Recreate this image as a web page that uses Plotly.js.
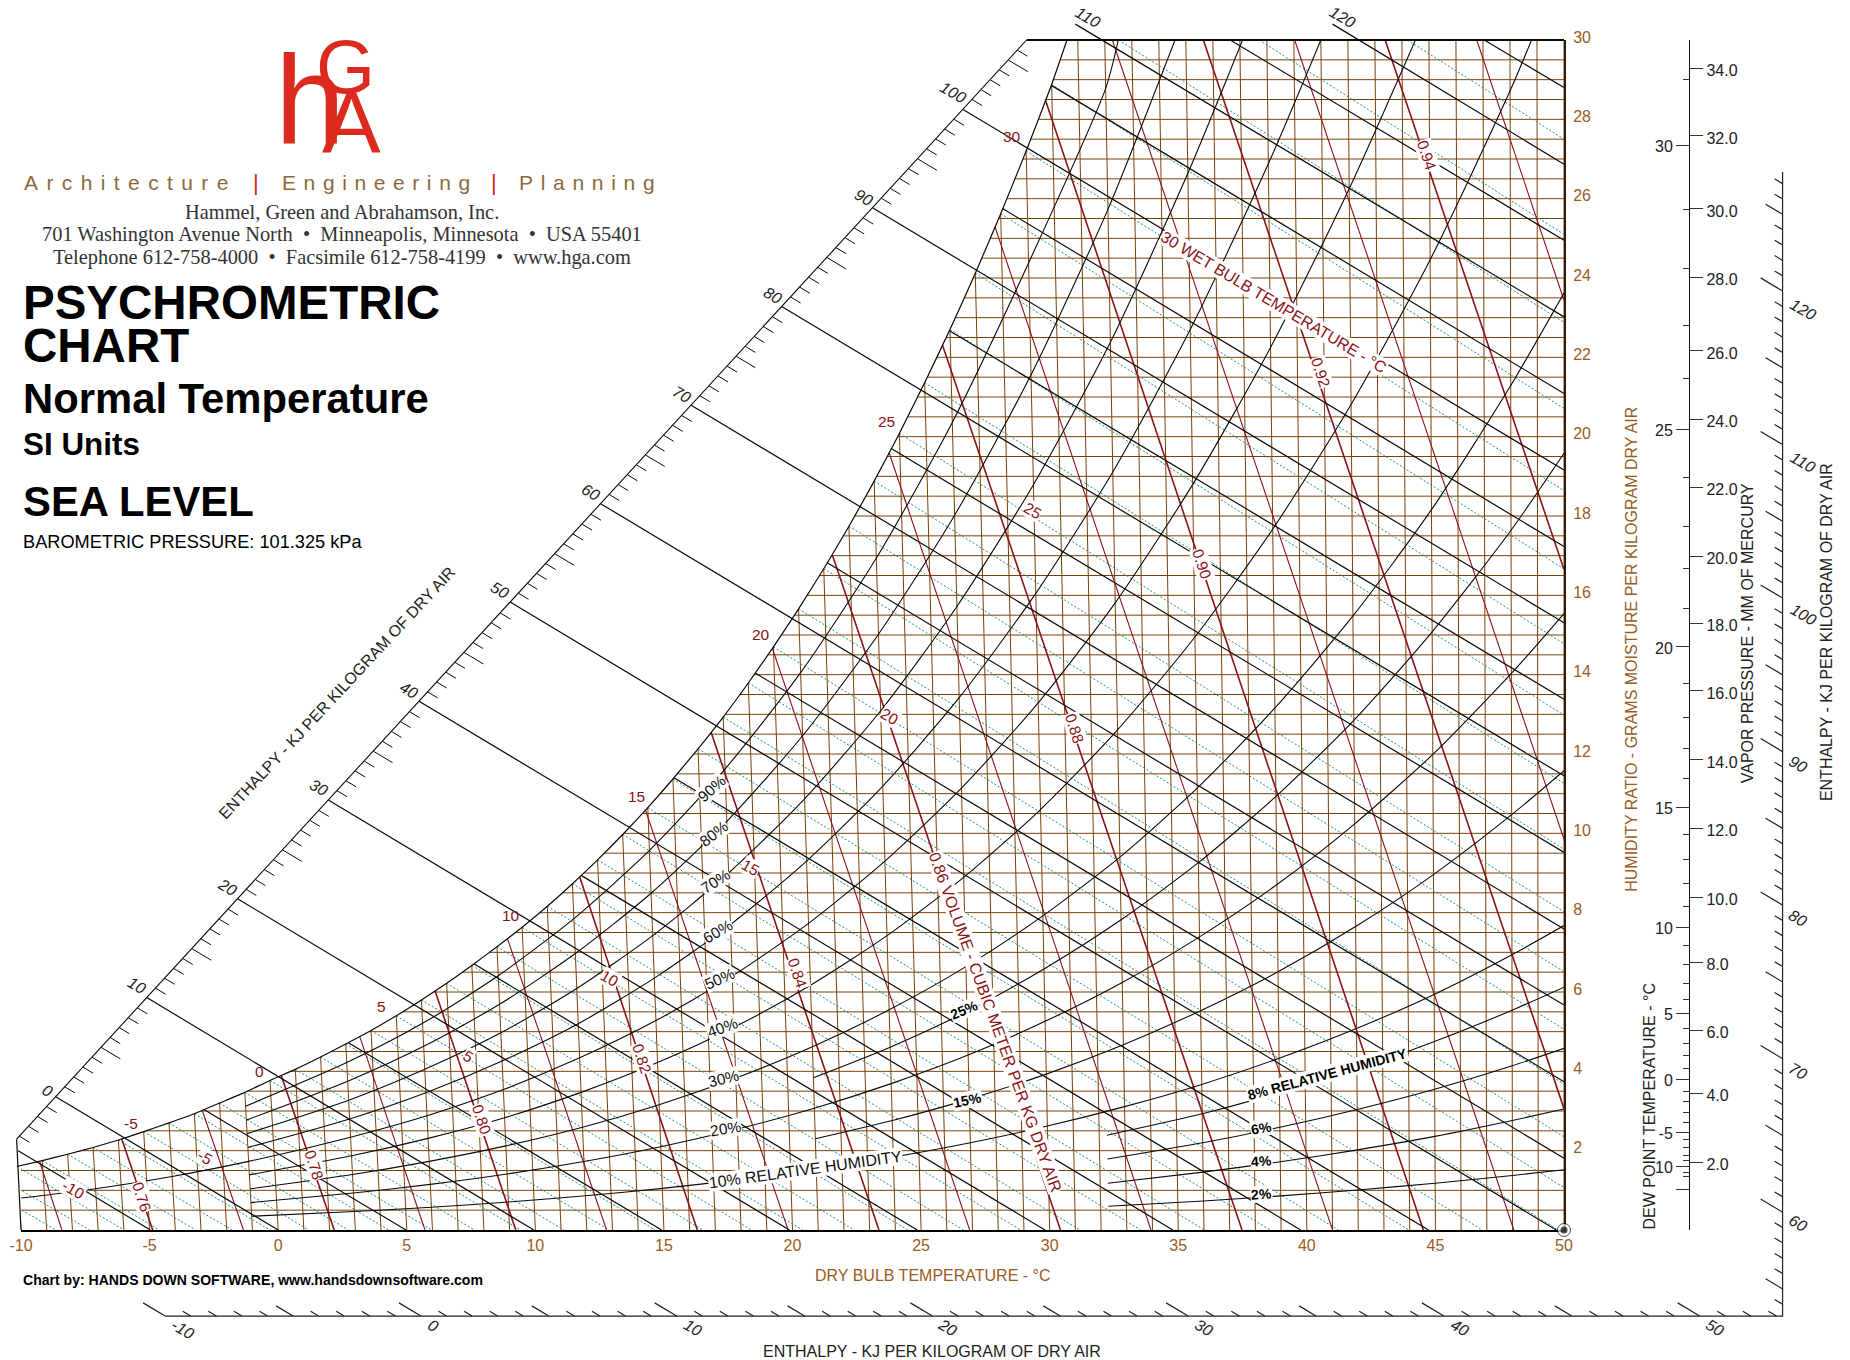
<!DOCTYPE html>
<html><head><meta charset="utf-8">
<script src="https://cdn.plot.ly/plotly-3.0.1.min.js"></script>
<style>html,body{margin:0;padding:0;background:#fff}</style></head>
<body><div id="chart" style="width:1850px;height:1360px"></div>
<script>
// Chart's dry-bulb lines lean as humidity ratio rises: plotted x for (dry bulb, humidity ratio)
const LEAN = 0.00168;
const plotX = (t, w) => 50 - (50 - t) * (1 + LEAN * w);

// Saturation curve: dry bulb (deg C), humidity ratio (g/kg)
const saturationT = [-10,-9,-8,-7,-6,-5,-4,-3,-2,-1,0,1,2,3,4,5,6,7,8,9,10,11,12,13,14,15,16,17,18,19,20,21,22,23,24,25,26,27,28,29,30,31,31.6];
const saturationW = [1.60,1.75,1.91,2.08,2.27,2.48,2.70,2.93,3.20,3.47,3.77,4.05,4.36,4.69,5.03,5.40,5.80,6.22,6.67,7.14,7.63,8.16,8.73,9.33,9.97,10.65,11.37,12.13,12.93,13.79,14.70,15.66,16.67,17.74,18.88,20.08,21.36,22.70,24.12,25.62,27.20,28.88,30];

// Dry bulb grid
const dryBulbT = [-10,-9,-8,-7,-6,-5,-4,-3,-2,-1,0,1,2,3,4,5,6,7,8,9,10,11,12,13,14,15,16,17,18,19,20,21,22,23,24,25,26,27,28,29,30,31,32,33,34,35,36,37,38,39,40,41,42,43,44,45,46,47,48,49,50];
const dryBulbTopW = [1.60,1.75,1.91,2.08,2.27,2.48,2.70,2.93,3.20,3.47,3.77,4.05,4.36,4.69,5.03,5.40,5.80,6.22,6.67,7.14,7.63,8.16,8.73,9.33,9.97,10.65,11.37,12.13,12.93,13.79,14.70,15.66,16.67,17.74,18.88,20.08,21.36,22.70,24.12,25.62,27.20,28.88,30,30,30,30,30,30,30,30,30,30,30,30,30,30,30,30,30,30,30];

// Humidity ratio grid
const humidityW = [0.5,1,1.5,2,2.5,3,3.5,4,4.5,5,5.5,6,6.5,7,7.5,8,8.5,9,9.5,10,10.5,11,11.5,12,12.5,13,13.5,14,14.5,15,15.5,16,16.5,17,17.5,18,18.5,19,19.5,20,20.5,21,21.5,22,22.5,23,23.5,24,24.5,25,25.5,26,26.5,27,27.5,28,28.5,29,29.5,30];
const humidityStartX = [-10.05,-10.10,-10.15,-7.67,-5.14,-3.01,-1.20,0.49,2.07,3.52,4.84,6.04,7.16,8.22,9.23,10.17,11.05,11.88,12.68,13.45,14.16,14.85,15.52,16.16,16.78,17.38,17.95,18.51,19.04,19.57,20.07,20.57,21.05,21.52,21.98,22.42,22.85,23.28,23.69,24.09,24.48,24.86,25.24,25.61,25.97,26.33,26.68,27.03,27.36,27.69,28.02,28.34,28.65,28.96,29.27,29.56,29.86,30.14,30.41,30.67];

// Wet bulb lines (dotted), 1 deg C apart
const wetBulbStartT = [-10.1,-10.05,-10,-9,-8,-7,-6,-5,-4,-3,-2,-1,0,1,2,3,4,5,6,7,8,9,10,11,12,13,14,15,16,17,18,19,20,21,22,23,24,25,26,27,28,29,30,31,33.51,38.71,44.2];
const wetBulbStartW = [1.08,0.55,1.60,1.75,1.91,2.08,2.27,2.48,2.70,2.93,3.20,3.47,3.77,4.05,4.36,4.69,5.03,5.40,5.80,6.22,6.67,7.14,7.63,8.16,8.73,9.33,9.97,10.65,11.37,12.13,12.93,13.79,14.70,15.66,16.67,17.74,18.88,20.08,21.36,22.70,24.12,25.62,27.20,28.88,30,30,30];
const wetBulbEndT = [-7.33,-8.64,-5.99,-4.61,-3.21,-1.8,-0.32,1.19,2.73,4.3,5.97,7.63,9.42,11.11,12.87,14.66,16.51,18.41,20.39,22.4,24.48,26.64,28.87,31.18,33.54,36.02,38.57,41.22,43.97,46.83,49.78,50,50,50,50,50,50,50,50,50,50,50,50,50,50,50,50];
const wetBulbEndW = [0,0,0,0,0,0,0,0,0,0,0,0,0,0,0,0,0,0,0,0,0,0,0,0,0,0,0,0,0,0,0,1.07,2.35,3.68,5.06,6.51,8.02,9.60,11.26,12.98,14.78,16.67,18.64,20.71,22.88,25.1,27.5];

// Specific volume lines (m3/kg)
const volumeValues = [0.75,0.76,0.77,0.78,0.79,0.80,0.81,0.82,0.83,0.84,0.85,0.86,0.87,0.88,0.89,0.90,0.91,0.92,0.93,0.94,0.95];
const volumeTopT = [-9.1,-5.87,-2.68,0.44,3.55,6.54,9.42,12.29,14.9,17.52,19.96,22.35,24.59,26.71,28.77,30.75,33.28,36.65,40.03,43.38,46.77];
const volumeTopW = [1.72,2.3,3.0,3.9,4.88,6.03,7.34,8.9,10.6,12.55,14.66,17.0,19.6,22.3,25.3,28.5,30,30,30,30,30];
const volumeEndT = [-8.41,-4.88,-1.35,2.18,5.71,9.24,12.77,16.30,19.83,23.36,26.89,30.42,33.94,37.48,41.0,44.53,48.05,50,50,50,50];
const volumeEndW = [0,0,0,0,0,0,0,0,0,0,0,0,0,0,0,0,0,3.06,9.85,16.65,23.44];

// Enthalpy lines (kJ/kg), plotted x and humidity ratio at each end
const enthalpyValues = [-5,0,5,10,15,20,25,30,35,40,45,50,55,60,65,70,75,80,85,90,95,100,105,110,115,120,125];
const enthalpyStartX = [-10.11,-8.65,-2.87,-5.11,2.73,-1.58,7.61,1.95,11.78,5.48,15.39,9.02,18.55,12.54,21.35,16.06,23.84,19.58,26.1,23.11,28.17,26.63,30.08,31.0,37.02,41.0,46.9];
const enthalpyStartW = [2.0,3.36,3.03,5.86,4.72,8.35,6.71,10.84,8.94,13.33,11.4,15.83,14.04,18.31,16.82,20.79,19.7,23.28,22.67,25.77,25.75,28.25,28.85,30.4,30,30.4,30];
const enthalpyEndX = [-4.97,0,4.97,9.94,14.91,19.88,24.85,29.82,34.79,39.76,44.73,49.70,50,50,50,50,50,50,50,50,50,50,50,50,50,50,50];
const enthalpyEndW = [0,0,0,0,0,0,0,0,0,0,0,0,1.81,3.74,5.67,7.59,9.52,11.45,13.38,15.31,17.23,19.16,21.09,23.02,24.95,26.87,28.80];

// Relative humidity curves: dry bulb (deg C), humidity ratio (g/kg)
const rhT = [-1,3,6,9,12,15,18,21,24,27,30,33,36,39,42,45,48,50];
const rh10W = [0.346,0.466,0.574,0.706,0.863,1.049,1.269,1.530,1.838,2.198,2.62,3.11,3.67,4.33,5.08,5.94,6.94,7.675];
const rh20W = [0.691,0.932,1.151,1.412,1.727,2.10,2.545,3.07,3.69,4.41,5.26,6.24,7.39,8.71,10.24,11.99,14.03,15.54];
const rh30W = [1.04,1.40,1.73,2.12,2.59,3.16,3.83,4.62,5.55,6.64,7.92,9.40,11.14,13.16,15.48,18.16,21.29,23.62];
const rh40T = [-1,3,6,9,12,15,18,21,24,27,30,33,36,39,42,45,48,48.8];
const rh40W = [1.39,1.87,2.31,2.83,3.47,4.22,5.11,6.17,7.42,8.89,10.60,12.61,14.95,17.67,20.81,24.46,28.72,30];
const rh50T = [-10,-7,-4,-1,3,6,9,12,15,18,21,24,27,30,33,36,39,42,44.5];
const rh50W = [0.80,1.04,1.35,1.73,2.34,2.88,3.54,4.34,5.28,6.40,7.73,9.30,11.14,13.29,15.81,18.79,22.25,26.25,30];
const rh60T = [-1,3,6,9,12,15,18,21,24,27,30,33,36,39,41];
const rh60W = [2.08,2.80,3.46,4.26,5.20,6.35,7.70,9.30,11.19,13.42,16.05,19.11,22.70,26.88,30];
const rh70T = [-1,3,6,9,12,15,18,21,24,27,30,33,36,38.1];
const rh70W = [2.43,3.27,4.05,4.97,6.09,7.42,9.00,10.87,13.09,15.72,18.79,22.38,26.64,30];
const rh80T = [-1,3,6,9,12,15,18,21,24,27,30,33,35.6];
const rh80W = [2.77,3.75,4.63,5.69,6.97,8.49,10.30,12.46,15.02,18.02,21.56,25.73,30];
const rh90T = [-1,3,6,9,12,15,18,21,24,27,30,33,33.5];
const rh90W = [3.12,4.22,5.21,6.41,7.85,9.57,11.62,14.05,16.94,20.36,24.38,28.78,30];
const rhMidT = [21,24,27,30,33,36,39,42,45,48,50];
const rh15W = [2.30,2.76,3.30,3.93,4.67,5.53,6.51,7.65,8.96,10.47,11.58];
const rh25W = [3.84,4.61,5.51,6.58,7.82,9.26,10.93,12.85,15.08,17.64,19.58];
const rhLowT = [32.3,36,39,42,45,48,50];
const rh2W = [0.60,0.731,0.86,1.01,1.18,1.375,1.52];
const rh4W = [1.18,1.46,1.72,2.02,2.36,2.76,3.05];
const rh6W = [1.79,2.20,2.59,3.04,3.55,4.14,4.58];
const rh8W = [2.39,2.93,3.46,4.05,4.75,5.54,6.12];

// Axis ticks
const dryBulbTicks = [-10,-5,0,5,10,15,20,25,30,35,40,45,50];
const dryBulbTickText = ['-10','-5','0','5','10','15','20','25','30','35','40','45','50'];
const humidityTicks = [2,4,6,8,10,12,14,16,18,20,22,24,26,28,30];
const vaporLabels = ['2.0','4.0','6.0','8.0','10.0','12.0','14.0','16.0','18.0','20.0','22.0','24.0','26.0','28.0','30.0','32.0','34.0'];
const vaporTickW = [1.71,3.45,5.02,6.74,8.39,10.13,11.85,13.59,15.3,16.99,18.73,20.44,22.16,24.02,25.74,27.58,29.29];
const dewLabels = ['30','25','20','15','10','5','0','-5','10',''];
const dewTickW = [27.34,20.18,14.70,10.65,7.63,5.45,3.80,2.47,1.61,1.03];
const dewMinorW = [29.01,25.73,24.24,22.8,21.46,18.97,17.74,16.67,15.66,13.79,12.93,12.13,11.37,9.97,9.33,8.73,8.16,7.16,6.70,6.22,5.82,5.07,4.71,4.41,4.08,3.50,3.23,2.95,2.72,2.27,2.09,1.89,1.74,1.46,1.34];

// Enthalpy scale geometry (plot units)
const diagScaleX = [-10.17,29.1], diagScaleW = [2.29,30];
const bottomScaleW = -2.17, rightScaleX = 58.5, rightScaleTopW = 26.67;
const diagAt = h => [-8.65 + 0.3528*h, 3.36 + 0.2489*h];
const bottomAt = h => [5.55 + 0.9945*h, bottomScaleW];
const rightAt = h => [rightScaleX, 0.45 + 0.387*(h-60)];

// Plot frame on the page, in pixels
const PX0 = 21, PX1 = 1564, PY0 = 1230, PY1 = 40, PAGEW = 1850, PAGEH = 1360;
const uX = (PX1-PX0)/60, uY = (PY0-PY1)/30;

const BROWN = '#7d4006', TEXTBROWN = '#9a5b1e', RED = '#8b1318', INK = '#0a0a0a';
const traces = [];
const segs = (name, color, width, xs, ys, dash, page) => traces.push(Object.assign({type:'scatter', mode:'lines', name, x:xs, y:ys, cliponaxis:false, connectgaps:false, hoverinfo:'skip', showlegend:false, line:{color, width, dash:dash||'solid'}}, page?{xaxis:'x2',yaxis:'y4'}:{}));

// dry bulb grid
{ const x=[],y=[]; dryBulbT.forEach((t,i)=>{x.push(t,plotX(t,dryBulbTopW[i]),null);y.push(0,dryBulbTopW[i],null);}); segs('Dry bulb',BROWN,1,x,y); }
// humidity grid
{ const x=[],y=[]; humidityW.forEach((w,i)=>{x.push(humidityStartX[i],50,null);y.push(w,w,null);}); segs('Humidity ratio',BROWN,1,x,y); }
// wet bulb
{ const x=[],y=[]; wetBulbStartT.forEach((t,i)=>{x.push(plotX(t,wetBulbStartW[i]),plotX(wetBulbEndT[i],wetBulbEndW[i]),null);y.push(wetBulbStartW[i],wetBulbEndW[i],null);}); segs('Wet bulb','#1e8f8f',1,x,y,'2px,2px'); }
// volume thin & thick
{ const x1=[],y1=[],x2=[],y2=[]; volumeValues.forEach((v,i)=>{const even=Math.round(v*100)%2===0; const X=even?x2:x1,Y=even?y2:y1; X.push(plotX(volumeTopT[i],volumeTopW[i]),plotX(volumeEndT[i],volumeEndW[i]),null);Y.push(volumeTopW[i],volumeEndW[i],null);}); segs('Volume .01',RED,1.1,x1,y1); segs('Volume .02',RED,1.6,x2,y2); }
// enthalpy
{ const x=[],y=[]; enthalpyValues.forEach((h,i)=>{x.push(enthalpyStartX[i],enthalpyEndX[i],null);y.push(enthalpyStartW[i],enthalpyEndW[i],null);}); segs('Enthalpy',INK,1.2,x,y,null,true); }
// relative humidity
const rhCurves = [[rhT,rh10W],[rhT,rh20W],[rhT,rh30W],[rh40T,rh40W],[rh50T,rh50W],[rh60T,rh60W],[rh70T,rh70W],[rh80T,rh80W],[rh90T,rh90W],[rhMidT,rh15W],[rhMidT,rh25W],[rhLowT,rh2W],[rhLowT,rh4W],[rhLowT,rh6W],[rhLowT,rh8W]];
rhCurves.forEach(([ts,ws],i)=>traces.push({type:'scatter',mode:'lines',name:'RH '+i,x:ts.map((t,k)=>plotX(t,ws[k])),y:ws,cliponaxis:false,hoverinfo:'skip',showlegend:false,line:{color:INK,width:1.1,shape:'spline',smoothing:0.7}}));
// saturation
traces.push({type:'scatter',mode:'lines',name:'Saturation',xaxis:'x2',yaxis:'y4',x:saturationT.map((t,k)=>plotX(t,saturationW[k])),y:saturationW,cliponaxis:false,hoverinfo:'skip',showlegend:false,line:{color:INK,width:1.2,shape:'spline',smoothing:0.5}});
// borders
segs('Left edge',INK,1.2,[diagScaleX[0],-10],[diagScaleW[0],0],null,true);
segs('Top edge',INK,1.8,[diagScaleX[1],50],[30,30],null,true);
segs('Enthalpy scale',INK,1.1,diagScaleX,diagScaleW,null,true);
// scale ticks
{ const x=[],y=[];
  for(let h=-4;h<=106;h++){ if(h%10===0) continue; const [a,b]=diagAt(h); const L=h%5===0?[0.75,-0.29]:[0.39,-0.152]; x.push(a,a+L[0],null); y.push(b,b+L[1],null);}
  segs('Enthalpy diagonal ticks',INK,1,x,y,null,true);
  const bx=[],by=[];
  const vec=h=>h%10===0?[-0.855,0.333]:(h%5===0?[-0.66,0.257]:[-0.31,0.121]);
  for(let h=-10;h<=53;h++){ const [a,b]=bottomAt(h); const V=vec(h); bx.push(a,a+V[0],null); by.push(b,b+V[1],null);}
  for(let h=54;h<=127;h++){ const [a,b]=rightAt(h); const V=vec(h); bx.push(a,a+V[0],null); by.push(b,b+V[1],null);}
  bx.push(bottomAt(-10)[0],rightScaleX,rightScaleX); by.push(bottomScaleW,bottomScaleW,rightScaleTopW);
  segs('Enthalpy outer scale','#222',1.2,bx,by,null,true);
}
// origin marker at right bottom corner
traces.push({type:'scatter',mode:'markers',name:'Corner',xaxis:'x2',yaxis:'y4',x:[50,50],y:[0,0],cliponaxis:false,hoverinfo:'skip',showlegend:false,marker:{size:[13,7],color:['#fff','#000'],line:{color:'#000',width:[1,0]}}});
// hold the free axes
traces.push({type:'scatter',mode:'markers',name:'Vapor pressure',x:vaporTickW.map(()=>50),y:vaporTickW,yaxis:'y2',hoverinfo:'skip',showlegend:false,marker:{opacity:0}});
traces.push({type:'scatter',mode:'markers',name:'Dew point',x:dewTickW.map(()=>50),y:dewTickW,yaxis:'y3',hoverinfo:'skip',showlegend:false,marker:{opacity:0}});

// Annotations. Positions are given in reference display units, scaled to the page.
const K = 1.18, FF = 'Liberation Sans, Arial, sans-serif';
const ann = [];
const T = (text,dx,dy,angle,size,color,opt) => ann.push(Object.assign({xref:'paper',yref:'paper',x:dx*K/PAGEW,y:1-dy*K/PAGEH,text,showarrow:false,textangle:angle||0,font:{family:FF,size:size||15,color:color||'#222'},xanchor:'center',yanchor:'middle',borderpad:0},opt||{}));
const W = {bgcolor:'#fff'};
// Logo
T('h',263,85,0,126,'#dd2a1e');
T('G',293,56,0,76,'#dd2a1e');
T('A',298,104,0,88,'#dd2a1e');
const TAG='#8b6a3e';
const LEFTT={xanchor:'left',align:'left'};
T('Architecture',19.5,155,0,21,TAG,LEFTT);
T('|',217,155,0,22,'#d8261c');
T('Engineering',238,155,0,21,TAG,LEFTT);
T('|',418.5,155,0,22,'#d8261c');
T('Planning',439,155,0,21,TAG,LEFTT);
const SERIF={font:{family:'Liberation Serif, serif',size:20.4,color:'#333'}};
T('Hammel, Green and Abrahamson, Inc.',290,180,0,20.4,'#333',SERIF);
T('701 Washington Avenue North  •  Minneapolis, Minnesota  •  USA 55401',290,198.5,0,20.4,'#333',SERIF);
T('Telephone 612-758-4000  •  Facsimile 612-758-4199  •  www.hga.com',290,218,0,20.4,'#333',SERIF);
T('<b>PSYCHROMETRIC</b>',18.7,256,0,47.5,'#000',LEFTT);
T('<b>CHART</b>',18.7,293,0,47.5,'#000',LEFTT);
T('<b>Normal Temperature</b>',18.7,338,0,41.8,'#000',LEFTT);
T('<b>SI Units</b>',18.7,377,0,31.4,'#000',LEFTT);
T('<b>SEA LEVEL</b>',18.7,425,0,41.8,'#000',LEFTT);
T('BAROMETRIC PRESSURE: 101.325 kPa',18.7,459,0,18.2,'#000',LEFTT);
T('<b>Chart by: HANDS DOWN SOFTWARE, www.handsdownsoftware.com</b>',18.7,1084.5,0,14.05,'#000',LEFTT);
// Axis titles
T('DRY BULB TEMPERATURE - °C',790,1081,0,16,TEXTBROWN);
T('HUMIDITY RATIO - GRAMS MOISTURE PER KILOGRAM DRY AIR',1382,550,-90,16,TEXTBROWN);
T('DEW POINT TEMPERATURE - °C',1398,938,-90,16,'#222');
T('VAPOR PRESSURE - MM OF MERCURY',1481,537,-90,16,'#222');
T('ENTHALPY - KJ PER KILOGRAM OF DRY AIR',1548,536,-90,16,'#222');
T('ENTHALPY - KJ PER KILOGRAM OF DRY AIR',790,1145.5,0,16,'#222');
T('ENTHALPY - KJ PER KILOGRAM OF DRY AIR',286,587,-47,16,'#222');
// Enthalpy scale numbers
const ITAL=t=>'<i>'+t+'</i>';
[['0',40,924],['10',116,835],['20',193,752],['30',270,667],['40',347,585],['50',424,500],['60',501,417],['70',578,334],['80',655,250],['90',732,167],['100',808,78],['110',922,15],['120',1138,15]].forEach(a=>T(ITAL(a[0]),a[1],a[2],30,16,'#222'));
[['-10',155,1127],['0',367,1123],['10',587,1125],['20',803,1125],['30',1020,1125],['40',1237,1125],['50',1453,1125]].forEach(a=>T(ITAL(a[0]),a[1],a[2],30,16,'#222'));
[['120',1528,262],['110',1528,392],['100',1528,521],['90',1524,648],['80',1524,778],['70',1524,908],['60',1524,1037]].forEach(a=>T(ITAL(a[0]),a[1],a[2],30,16,'#222'));
// Wet bulb numbers
[['-5',111,952],['0',220,908],['5',323,853],['10',433,776],['15',539,675],['20',645,538],['25',751,357],['30',858,116]].forEach(a=>T(a[0],a[1],a[2],0,15.5,RED));
[['-10',62,1008],['-5',174,981],['5',397,895],['10',517,829],['15',636,735],['20',754,607],['25',875,433]].forEach(a=>T(a[0],a[1],a[2],30,15.5,RED,W));
T('30 WET BULB TEMPERATURE - °C',1080,256,31,16,RED,W);
// Volume numbers
[['0.76',120,1014],['0.78',266,987],['0.80',408,949],['0.82',544,897],['0.84',676,825],['0.88',911,617],['0.90',1019,478],['0.92',1119,316],['0.94',1209,132]].forEach(a=>T(a[0],a[1],a[2],72,15.5,RED,W));
T('0.86 VOLUME - CUBIC METER PER KG DRY AIR',843,866,70,16,RED,W);
// RH numbers
[['90%',603,668,-42],['80%',605,706,-38],['70%',606,747,-33],['60%',608,789,-30],['50%',610,829,-24],['40%',612,871,-20],['30%',613,914,-14],['20%',615,956,-9]].forEach(a=>T(a[0],a[1],a[2],a[3],15.5,'#111',W));
T('10% RELATIVE HUMIDITY',683,991,-8,16,'#111',W);
T('<b>25%</b>',817,856,-23,14,'#000',W);
T('<b>15%</b>',820,932,-12,14,'#000',W);
T('<b>8% RELATIVE HUMIDITY</b>',1125,910,-15,14,'#000',W);
T('<b>6%</b>',1069,956,-10,14,'#000',W);
T('<b>4%</b>',1069,984,-4,14,'#000',W);
T('<b>2%</b>',1069,1012,-4,14,'#000',W);

const tickFont = {family:FF,size:16,color:TEXTBROWN};
const darkTick = {family:FF,size:16,color:'#222'};
const layout = {
  width:PAGEW,height:PAGEH,autosize:false,showlegend:false,
  paper_bgcolor:'#fff',plot_bgcolor:'rgba(0,0,0,0)',
  margin:{l:0,r:0,t:0,b:0,pad:0},
  font:{family:FF},
  xaxis:{domain:[PX0/PAGEW,PX1/PAGEW],range:[-10,50],tickmode:'array',tickvals:dryBulbTicks,ticktext:dryBulbTickText,tickfont:tickFont,ticks:'',showgrid:false,zeroline:false,showline:true,linecolor:'#000',linewidth:2,fixedrange:true},
  yaxis:{domain:[(PAGEH-PY0)/PAGEH,(PAGEH-PY1)/PAGEH],range:[0,30],side:'right',tickmode:'array',tickvals:humidityTicks,tickfont:tickFont,ticklabelshift:-3,ticks:'outside',ticklen:4,tickcolor:'rgba(0,0,0,0)',showgrid:false,zeroline:false,showline:true,linecolor:'#2e1c08',linewidth:2,fixedrange:true},
  yaxis2:{overlaying:'y',anchor:'free',position:1689/PAGEW,side:'right',range:[0,30],tickmode:'array',tickvals:vaporTickW,ticktext:vaporLabels,tickfont:darkTick,ticklabelshift:2,ticks:'outside',ticklen:13,tickcolor:'#333',tickwidth:1,showgrid:false,zeroline:false,showline:true,linecolor:'#111',linewidth:1.2,fixedrange:true},
  yaxis3:{overlaying:'y',anchor:'free',position:1689/PAGEW,side:'left',range:[0,30],tickmode:'array',tickvals:dewTickW,ticktext:dewLabels,tickfont:darkTick,ticklabelshift:1,ticks:'outside',ticklen:13,tickcolor:'#333',tickwidth:1,minor:{tickmode:'array',tickvals:dewMinorW,ticks:'outside',ticklen:6,tickcolor:'#333',tickwidth:1,showgrid:false},showgrid:false,zeroline:false,showline:false,fixedrange:true},
  // whole-page axes in the same units, for the scales drawn outside the plot frame
  xaxis2:{domain:[0,1],range:[-10-PX0/uX,50+(PAGEW-PX1)/uX],visible:false,anchor:'y4',fixedrange:true},
  yaxis4:{domain:[0,1],range:[-(PAGEH-PY0)/uY,30+PY1/uY],visible:false,anchor:'x2',fixedrange:true},
  annotations:ann
};
Plotly.newPlot('chart',traces,layout,{displayModeBar:false,staticPlot:true}).then(()=>{
  const spacing={Architecture:'8.4px',Engineering:'7.6px',Planning:'7.7px'};
  document.querySelectorAll('.annotation-text').forEach(n=>{
    const s=spacing[n.textContent];
    if(s) n.style.letterSpacing=s;
  });
});
</script></body></html>
